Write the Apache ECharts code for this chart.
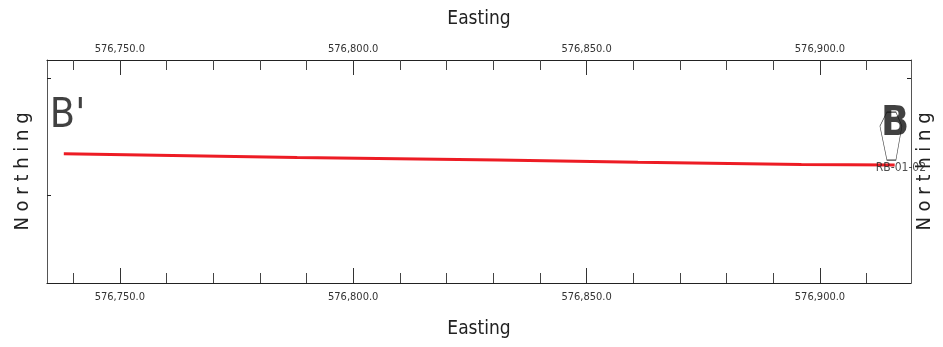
<!DOCTYPE html>
<html>
<head>
<meta charset="utf-8">
<script src="https://cdn.jsdelivr.net/npm/echarts@6/dist/echarts.min.js"></script>
<style>
html,body{margin:0;padding:0;background:#fff;}
#chart{width:943px;height:347px;}
</style>
</head>
<body>
<div id="chart"></div>
<script>
// ---- data ----
const eastingRange = [576734.4, 576919.5];
const northingRange = [81.2, 128.85];
const eastingMajorTicks = [576750, 576800, 576850, 576900];
const eastingMinorTicks = [576740, 576760, 576770, 576780, 576790, 576810, 576820, 576830, 576840, 576860, 576870, 576880, 576890, 576910];
const northingTicksLeft = [100, 125];
const northingTicksRight = [125];
const sectionEasting = [576738, 576788, 576831, 576861, 576896, 576916];
const sectionNorthing = [108.8, 108.0, 107.5, 107.0, 106.5, 106.4];
const sectionEndNames = ["B'", "B"];
const sectionEndEasting = [576738.8, 576916.1];
const sectionEndNorthing = [116.9, 115.2];
const boreholeName = "RB-01-02";
const boreholeEasting = 576915.2;
const boreholeNorthing = 112.6;

const FONT = "'Liberation Sans Narrow', 'DejaVu Sans Condensed', 'Liberation Sans', sans-serif";

const fmt = v => v.toLocaleString('en-US', {minimumFractionDigits: 1, maximumFractionDigits: 1});

function xAxisMajor(pos) {
  return {
    type: 'value', position: pos, min: eastingRange[0], max: eastingRange[1],
    name: 'Easting', nameLocation: 'middle', nameGap: pos === 'top' ? 31 : 37,
    nameTextStyle: {fontFamily: FONT, fontSize: 19, color: '#222'},
    axisLine: {show: true, lineStyle: {color: '#222', width: 1.2}},
    axisTick: {show: true, inside: true, length: 15, customValues: eastingMajorTicks, lineStyle: {color: '#333'}},
    axisLabel: {show: true, customValues: eastingMajorTicks, formatter: fmt, margin: pos === 'top' ? 5 : 9,
      fontFamily: FONT, fontSize: 11, color: '#333'},
    splitLine: {show: false}
  };
}
function xAxisMinor(pos) {
  return {
    type: 'value', position: pos, min: eastingRange[0], max: eastingRange[1],
    axisLine: {show: false},
    axisTick: {show: true, inside: true, length: 10, customValues: eastingMinorTicks, lineStyle: {color: '#444'}},
    axisLabel: {show: false},
    splitLine: {show: false}
  };
}
function yAxisDef(pos, ticks, gap) {
  return {
    type: 'value', position: pos, min: northingRange[0], max: northingRange[1],
    name: 'N o r t h i n g', nameLocation: 'middle', nameRotate: 90, nameGap: gap,
    nameTextStyle: {fontFamily: FONT, fontSize: 20, color: '#222'},
    axisLine: {show: true, lineStyle: {color: '#555', width: 1}},
    axisTick: {show: true, inside: true, length: 4, customValues: ticks, lineStyle: {color: '#222'}},
    axisLabel: {show: false},
    splitLine: {show: false}
  };
}

const chart = echarts.init(document.getElementById('chart'), null, {renderer: 'canvas'});
chart.setOption({
  animation: false,
  backgroundColor: '#fff',
  grid: {left: 47, right: 32, top: 60, bottom: 64, containLabel: false, outerBoundsMode: 'none'},
  xAxis: [xAxisMajor('bottom'), xAxisMinor('bottom'), xAxisMajor('top'), xAxisMinor('top')],
  yAxis: [yAxisDef('left', northingTicksLeft, 14), yAxisDef('right', northingTicksRight, 4)],
  series: [
    {
      type: 'line', xAxisIndex: 0, yAxisIndex: 0,
      data: sectionEasting.map((e, i) => [e, sectionNorthing[i]]),
      showSymbol: false, symbol: 'none',
      lineStyle: {color: '#ed1c24', width: 3}, z: 3
    },
    {
      type: 'scatter', xAxisIndex: 0, yAxisIndex: 0,
      data: [{name: boreholeName, value: [boreholeEasting, boreholeNorthing]}],
      symbol: 'path://M7,0 L16,0 L22,14 L16,48 L7,48 L0,14 Z',
      symbolSize: [22, 48],
      itemStyle: {color: 'rgba(0,0,0,0)', borderColor: '#111', borderWidth: 0.8},
      label: {show: true, formatter: '{b}', position: 'inside', offset: [10, 32],
        fontFamily: FONT, fontSize: 12, color: '#222'},
      z: 4
    },
    {
      type: 'scatter', xAxisIndex: 0, yAxisIndex: 0,
      data: sectionEndNames.map((n, i) => ({
        name: n, value: [sectionEndEasting[i], sectionEndNorthing[i]],
        label: {fontWeight: i === 1 ? 'bold' : 'normal'}
      })),
      symbolSize: 0,
      label: {show: true, formatter: '{b}', position: 'inside',
        fontFamily: FONT, fontSize: 41, color: '#111'},
      z: 5
    }
  ]
});
</script>
</body>
</html>
